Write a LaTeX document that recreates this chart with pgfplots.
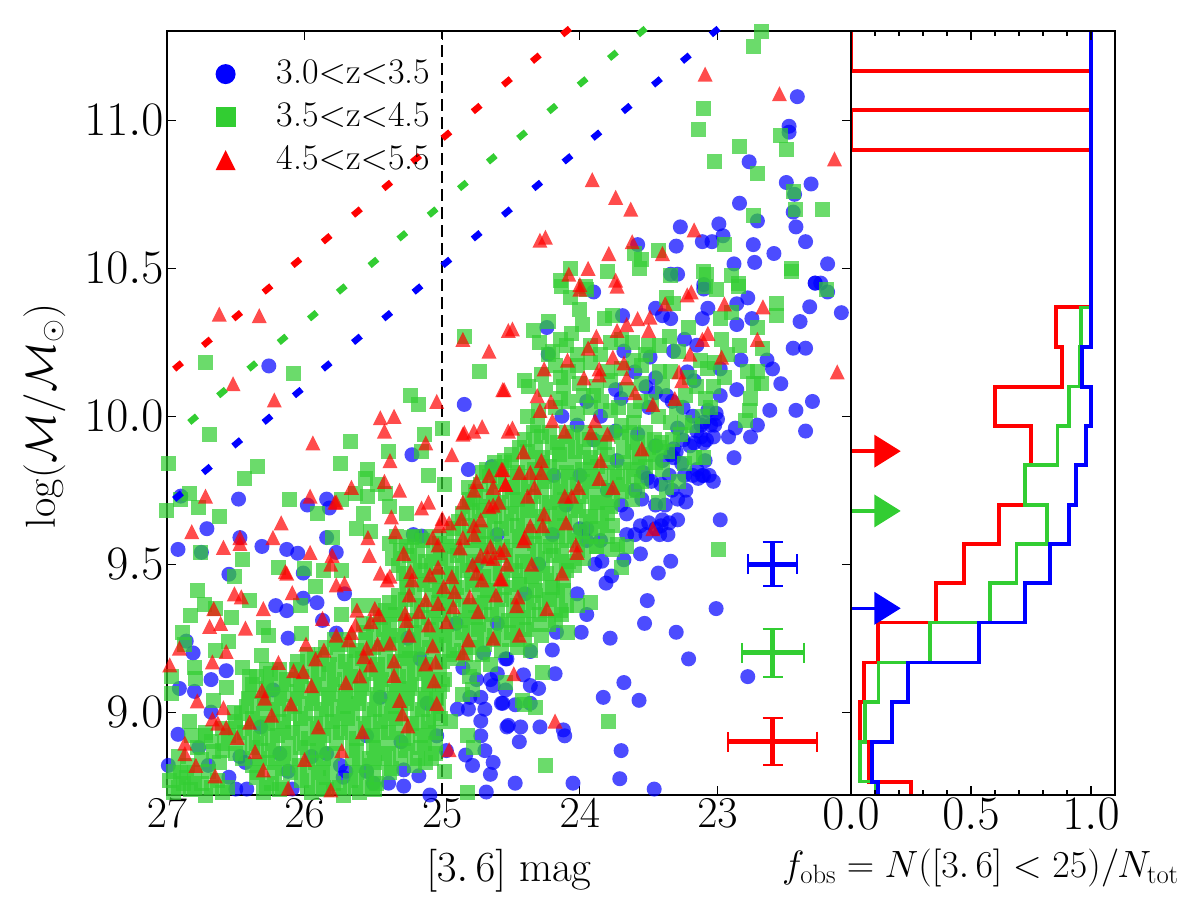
\documentclass[border=0pt]{standalone}
\usepackage{fix-cm}
\usepackage{pgfplots}
\pgfplotsset{compat=1.18}
\pgfdeclareplotmark{dotf}{\pgfpathcircle{\pgfpointorigin}{\pgfplotmarksize}\pgfusepathqfill}
\pgfdeclareplotmark{sqf}{\pgfpathrectangle{\pgfqpoint{-\pgfplotmarksize}{-\pgfplotmarksize}}{\pgfqpoint{2\pgfplotmarksize}{2\pgfplotmarksize}}\pgfusepathqfill}
\pgfdeclareplotmark{trif}{\pgfpathmoveto{\pgfqpoint{0pt}{\pgfplotmarksize}}\pgfpathlineto{\pgfqpoint{\pgfplotmarksize}{-\pgfplotmarksize}}\pgfpathlineto{\pgfqpoint{-\pgfplotmarksize}{-\pgfplotmarksize}}\pgfpathclose\pgfusepathqfill}
\pgfdeclareplotmark{track}{\pgftransformrotate{40}\pgfpathrectangle{\pgfqpoint{-5pt}{-3.2pt}}{\pgfqpoint{10pt}{6.4pt}}\pgfusepathqfill}
\pgfdeclareplotmark{rarr}{\pgfpathmoveto{\pgfqpoint{0pt}{16.5pt}}\pgfpathlineto{\pgfqpoint{26.4pt}{0pt}}\pgfpathlineto{\pgfqpoint{0pt}{-16.5pt}}\pgfpathclose\pgfusepathqfill}
\definecolor{lg}{rgb}{0.196,0.804,0.196}
\newcommand{\tf}{\fontsize{44}{48}\selectfont}
\newcommand{\tfw}{\fontsize{48}{52}\selectfont}
\begin{document}
\begin{tikzpicture}
\path[use as bounding box] (0,0) rectangle (1200pt,906pt);
\begin{axis}[
  at={(167pt,111pt)}, anchor=south west,
  scale only axis, width=684pt, height=764pt,
  x dir=reverse, xmin=22.03, xmax=27, ymin=8.72, ymax=11.302,
  xtick={23,24,25,26,27}, ytick={9,9.5,10,10.5,11},
  axis on top, axis line style={line width=2pt},
  major tick length=9pt,
  tick style={black, line width=1.2pt},
  xticklabel style={font=\tf, yshift=-1pt},
  yticklabel style={font=\tfw, /pgf/number format/.cd, fixed, fixed zerofill, precision=1},
  xticklabel={\pgfmathprintnumber[int detect]{\tick}},
  xlabel={$[3.\,6]$ mag},
  xlabel style={font=\fontsize{43}{46}\selectfont, at={(axis description cs:0.5,-0.1126)}, anchor=base},
  ylabel={$\log(\mathcal{M}/\mathcal{M}_\odot)$},
  ylabel style={font=\fontsize{42}{46}\selectfont, at={(axis description cs:-0.164,0.496)}, anchor=base},
  legend cell align=left,
  legend style={at={(axis cs:26.67,11.206)}, anchor=north west, draw=none, fill=none,
    font=\fontsize{36}{38}\selectfont, row sep=18pt,
    nodes={inner sep=0pt, text height=22pt, text depth=3pt},
    /tikz/every odd column/.append style={column sep=41pt}},
]
\addlegendimage{only marks, mark=dotf, mark size=10pt, color=blue}
\addlegendentry{3.0$<$z$<$3.5}
\addlegendimage{only marks, mark=sqf, mark size=10pt, color=lg}
\addlegendentry{3.5$<$z$<$4.5}
\addlegendimage{only marks, mark=trif, mark size=10pt, color=red}
\addlegendentry{4.5$<$z$<$5.5}
% blue
\addplot[forget plot, only marks, color=blue, mark=dotf, mark size=7.5pt, mark options={fill opacity=.7}] coordinates {
(22.45,11.305)(22.42,11.08)(22.48,10.98)(22.48,10.96)(22.77,10.86)(22.50,10.79)(22.32,10.785)(22.44,10.75)(22.45,10.69)(22.43,10.64)(22.36,10.59)(22.84,10.72)(22.71,10.66)(22.99,10.65)(23.27,10.64)(22.96,10.61)(23.04,10.59)(23.11,10.59)(22.74,10.58)(23.30,10.575)(23.58,10.58)(22.59,10.55)(22.73,10.52)(22.88,10.515)(22.20,10.515)(23.29,10.48)(23.34,10.48)(22.29,10.45)(22.25,10.45)(23.10,10.445)
(23.90,10.42)(23.10,10.43)(22.29,10.45)(22.20,10.42)(22.33,10.37)(22.10,10.35)(22.40,10.32)(22.78,10.40)(22.86,10.38)(23.07,10.365)(23.45,10.365)(23.69,10.34)(23.40,10.34)(23.34,10.33)(23.11,10.33)(22.86,10.31)(22.75,10.33)(24.24,10.30)(24.23,10.21)(23.24,10.26)(23.15,10.24)(23.32,10.22)(22.45,10.23)(22.36,10.23)(23.68,10.22)(23.49,10.20)(22.83,10.19)(22.64,10.19)(22.60,10.16)(22.54,10.11)(22.86,10.09)(23.22,10.15)(23.45,10.13)(23.17,10.12)(23.45,10.08)(23.37,10.07)(23.74,10.09)(22.98,10.16)(22.98,10.07)(22.31,10.05)(22.43,10.02)(22.62,10.02)(22.36,9.95)(22.71,9.97)(22.87,9.96)(22.76,9.93)(22.92,9.93)(23.01,10.01)(23.07,10.02)(23.12,9.97)(23.03,9.93)(23.29,9.96)(23.10,9.91)(23.17,9.91)(23.32,9.86)(23.09,9.85)(22.88,9.86)(23.11,9.80)(23.03,9.78)(23.23,9.75)(23.23,9.71)(23.29,9.72)(23.41,9.77)(22.98,9.65)(23.29,9.65)(23.35,9.64)(23.66,9.67)(23.56,9.63)(23.41,9.63)(24.19,9.80)(24.0,9.80)(23.51,9.79)(23.73,9.85)(23.74,9.95)(23.50,10.03)(23.85,10.0)(24.13,10.0)(24.02,9.97)(23.58,9.94)(23.32,9.89)(23.54,9.81)(23.15,9.82)(23.24,9.80)(23.95,9.62)
(23.10,9.98)(23.05,9.97)(23.15,9.95)(23.08,9.92)(23.12,9.93)(23.02,9.97)(23.00,9.99)(23.20,9.90)(23.30,9.88)(23.26,9.84)(23.34,9.87)(23.10,9.80)(23.14,9.79)(23.06,9.80)(23.18,9.80)(23.4,9.65)(23.45,9.62)(23.5,9.64)(23.42,9.60)(23.52,9.60)(23.36,9.60)(23.6,9.6)(23.66,9.60)(24.0,9.62)(23.95,9.58)(23.85,9.58)
(23.55,9.72)(23.45,9.70)(23.60,9.75)(23.38,9.70)(23.48,9.78)(23.35,9.80)(23.33,9.75)(23.40,9.85)(23.45,9.90)(23.25,9.92)(23.18,10.0)(23.25,10.03)(23.33,10.05)(23.52,10.10)(23.60,10.15)(23.70,10.06)(23.95,10.05)(23.90,9.92)
(23.56,9.535)(23.34,9.51)(23.43,9.47)(23.51,9.377)(23.01,9.35)(23.53,9.30)(23.30,9.27)(23.78,9.25)(23.99,9.27)(24.20,9.21)(24.36,9.205)(23.21,9.18)(24.18,9.13)(24.41,9.126)(22.78,9.12)(23.68,9.10)(24.36,9.09)(24.30,9.08)(23.83,9.05)(23.57,9.04)(24.36,9.03)(24.47,9.025)(24.56,9.03)(24.52,8.955)(24.43,8.95)(24.29,8.95)(24.12,8.94)(24.11,8.92)(24.44,8.90)(23.70,8.87)(23.71,8.775)(24.47,8.76)(24.05,8.76)(23.46,8.74)(23.81,9.436)(23.89,9.50)(23.84,9.51)(23.68,9.515)(23.77,9.46)(23.95,9.33)(24.02,9.40)(24.17,9.27)(24.54,9.18)(24.54,9.075)
(26.26,10.17)(24.84,10.04)(25.22,9.87)(24.81,9.82)(24.64,9.83)(26.48,9.72)(26.71,9.62)(26.47,9.59)(25.98,9.70)(25.84,9.72)(25.82,9.69)(25.84,9.59)(25.21,9.60)(25.15,9.595)(26.90,9.73)
(26.92,9.55)(26.75,9.54)(26.31,9.56)(26.13,9.55)(26.05,9.537)(25.77,9.54)(26.55,9.466)(26.21,9.36)(26.13,9.343)(25.91,9.37)(26.01,9.47)(25.71,9.40)(26.01,9.385)(26.86,9.24)(26.81,9.20)(26.12,9.25)(26.57,9.14)(26.68,9.11)(26.91,9.08)(26.80,9.07)(26.23,9.075)(26.68,9.0)(26.92,8.925)(26.77,8.88)(26.47,8.85)(26.43,8.83)(26.55,8.78)(26.70,8.82)(26.99,8.82)(25.87,9.31)(25.77,9.267)(26.50,8.74)(26.42,8.74)(24.53,8.95)(24.72,8.97)(24.81,9.01)(24.89,9.01)(24.69,9.01)(24.57,9.03)(24.63,9.09)(24.72,8.92)(24.69,8.87)(24.63,8.83)(24.78,8.82)(24.65,8.79)(24.83,8.855)(25.17,8.785)(25.28,8.805)(25.28,8.75)(25.39,8.76)(25.09,8.72)(24.68,8.73)(24.97,8.87)(25.04,8.92)(24.65,9.11)(24.75,9.11)(24.72,9.05)(24.80,9.05)(24.6,9.13)(24.53,9.18)
(25.84,8.86)(25.74,8.82)(25.55,8.92)(25.11,9.03)(25.16,9.18)(26.18,8.86)(26.09,8.74)(25.55,8.80)(25.70,8.80)(25.72,8.78)(26.12,8.80)(25.50,8.76)(25.30,8.90)(25.95,8.85)(26.32,8.95)(25.45,9.05)(25.25,9.25)(24.90,9.30)(24.70,9.20)(24.85,9.15)(24.60,9.30)(24.40,9.40)(24.30,9.50)(24.20,9.60)(24.10,9.70)(23.80,9.75)(23.70,9.70)(24.60,9.60)(24.75,9.50)
};
% green
\addplot[forget plot, only marks, color=lg, mark=sqf, mark size=7.5pt, mark options={fill opacity=.72}] coordinates {
(22.74,11.25)(22.68,11.30)(23.10,11.04)(23.14,10.97)(22.84,10.91)(22.54,10.95)(22.50,10.90)(23.02,10.86)(22.71,10.82)(22.45,10.76)(22.43,10.70)(22.24,10.70)(22.74,10.68)(22.95,10.58)(23.43,10.56)(23.60,10.55)(23.55,10.53)(23.57,10.50)(24.07,10.50)(24.14,10.46)(23.80,10.49)(23.10,10.49)(23.08,10.48)(22.90,10.475)(22.46,10.50)(22.46,10.49)(23.34,10.475)(22.85,10.45)(23.96,10.44)
(24.13,10.44)(24.07,10.40)(23.95,10.43)(23.37,10.40)(23.32,10.38)(23.09,10.44)(23.01,10.43)(22.85,10.44)(22.21,10.43)(22.57,10.38)(22.57,10.34)(24.0,10.36)(23.98,10.31)(24.23,10.32)(24.34,10.29)(24.29,10.25)(24.14,10.26)(24.06,10.28)(23.82,10.33)(23.76,10.34)(23.70,10.26)(23.21,10.30)(22.97,10.26)(22.98,10.33)(22.90,10.35)(22.71,10.30)(22.67,10.23)(22.84,10.24)(23.28,10.22)(23.42,10.24)(23.52,10.21)(23.61,10.19)(23.85,10.21)(24.02,10.21)(24.23,10.21)(23.12,10.19)(22.93,10.21)(23.07,10.16)(22.78,10.15)(22.71,10.15)(22.74,10.11)(22.68,10.11)(22.76,10.06)(22.77,10.02)(22.80,9.985)(23.34,10.15)(24.14,10.13)(24.02,10.17)(24.40,10.12)(24.37,10.10)(24.14,10.06)(23.97,10.07)(23.90,10.07)(23.78,10.02)(23.60,10.02)(24.38,10.0)(24.02,10.01)(23.23,10.07)(23.09,10.06)(23.03,10.10)(23.11,10.0)(23.24,9.98)(23.43,10.0)(23.61,9.98)(23.70,9.97)(24.31,9.97)(23.41,9.91)(23.27,9.94)(23.24,9.84)(23.10,9.86)(23.37,9.76)(23.43,9.71)(23.58,9.75)
(24.30,10.02)(24.18,10.03)(24.08,10.05)(23.92,10.03)(23.84,10.05)(23.72,10.03)(23.56,10.05)(23.48,10.05)(24.25,10.09)(24.12,10.10)(24.00,10.11)(23.88,10.10)(23.78,10.12)(23.66,10.09)(23.55,10.11)(23.40,10.10)(24.28,10.14)(24.18,10.17)(24.08,10.15)(23.92,10.18)(23.80,10.15)(23.70,10.16)(23.55,10.17)(23.42,10.15)(24.20,10.22)(24.10,10.24)(23.92,10.24)(23.78,10.25)(23.62,10.25)(23.50,10.24)(23.35,10.27)(23.20,10.13)(23.02,10.18)(22.95,10.13)(23.15,10.10)(23.05,10.03)(23.18,9.97)(23.34,9.98)(23.30,10.03)(23.33,9.92)(23.17,9.86)(23.28,9.78)
(26.95,8.80)(26.85,8.82)(26.75,8.84)(26.88,8.76)(26.70,8.80)(26.62,8.83)(26.78,8.88)(26.68,8.90)(26.92,8.85)
(22.99,9.55)(23.70,9.49)(23.92,9.37)(24.12,9.41)(24.27,9.135)(24.42,9.04)(24.32,9.015)(23.79,8.97)(24.25,8.82)(24.09,9.27)(24.02,9.36)(24.13,9.33)(24.54,9.10)(24.40,9.025)(23.73,9.565)(23.87,9.56)
(26.72,10.18)(26.08,10.145)(26.69,9.94)(25.67,9.915)(25.23,10.07)(25.17,10.04)(24.73,10.15)(24.84,10.27)(25.13,9.94)(25.0,9.96)(25.39,9.88)(25.15,9.88)(26.99,9.84)(26.34,9.83)(26.44,9.79)(25.74,9.84)(25.54,9.82)(25.10,9.80)(24.98,9.77)(26.84,9.74)(26.90,9.72)(26.77,9.69)(26.62,9.66)(26.11,9.72)(27.0,9.68)(25.91,9.67)(25.56,9.79)(25.47,9.77)(25.54,9.73)(25.73,9.72)(25.63,9.74)(25.41,9.74)(25.38,9.695)(25.57,9.67)(25.26,9.67)(25.62,9.62)(25.52,9.61)(25.80,9.59)(25.22,9.59)(24.55,9.85)(24.71,9.81)(24.81,9.76)(24.78,9.71)
(26.76,9.54)(26.45,9.515)(26.19,9.49)(26.51,9.46)(26.78,9.41)(26.73,9.365)(26.0,9.486)(25.86,9.48)(25.73,9.48)(25.92,9.425)(26.40,9.377)(26.03,9.36)(26.65,9.35)(26.83,9.325)(26.53,9.32)(26.30,9.287)(26.26,9.26)(26.89,9.27)(26.55,9.24)(26.87,9.23)(26.65,9.21)(26.31,9.19)(26.02,9.265)(26.80,9.15)(26.79,9.115)(26.97,9.12)(26.97,9.064)(26.45,9.15)(26.40,9.12)(26.57,9.085)(26.66,9.04)(26.84,8.97)(26.51,9.0)(26.66,8.867)(26.72,8.92)(25.61,9.36)(25.50,9.36)(25.73,9.33)(25.57,9.30)
(24.82,8.73)(24.98,8.80)(24.82,8.92)(24.77,8.88)(24.94,8.97)(24.78,9.075)
(24.40,9.92)(24.28,9.93)(24.16,9.91)(24.05,9.93)(23.93,9.92)(23.82,9.91)(23.70,9.93)(23.58,9.91)(23.46,9.92)
(24.50,9.87)(24.38,9.88)(24.27,9.86)(24.15,9.87)(24.03,9.88)(23.92,9.86)(23.80,9.87)(23.68,9.88)(23.57,9.86)(23.47,9.87)(23.36,9.88)
(24.68,9.82)(24.57,9.83)(24.45,9.81)(24.33,9.82)(24.22,9.83)(24.10,9.81)(23.98,9.82)(23.87,9.83)(23.75,9.81)(23.63,9.82)(23.52,9.83)(23.40,9.82)
(24.72,9.77)(24.60,9.78)(24.49,9.76)(24.37,9.77)(24.26,9.78)(24.14,9.76)(24.02,9.77)(23.91,9.78)(23.79,9.76)(23.68,9.77)(23.55,9.78)
(24.80,9.72)(24.68,9.73)(24.57,9.71)(24.45,9.72)(24.34,9.73)(24.22,9.71)(24.11,9.72)(23.99,9.73)(23.87,9.71)(23.76,9.72)(23.62,9.72)
(24.85,9.67)(24.73,9.68)(24.62,9.66)(24.50,9.67)(24.38,9.68)(24.27,9.66)(24.15,9.67)(24.03,9.68)(23.92,9.66)(23.80,9.67)
(24.92,9.62)(24.80,9.63)(24.69,9.61)(24.57,9.62)(24.45,9.63)(24.34,9.61)(24.22,9.62)(24.11,9.63)(23.99,9.61)(23.87,9.62)(23.76,9.63)
(25.38,9.57)(25.26,9.56)(25.14,9.58)(25.02,9.57)(24.91,9.56)(24.79,9.58)(24.68,9.57)(24.56,9.56)(24.44,9.58)(24.33,9.57)(24.21,9.56)(24.10,9.58)(23.98,9.57)(23.88,9.56)(23.76,9.55)(23.66,9.56)
(25.36,9.52)(25.24,9.53)(25.12,9.51)(25.01,9.52)(24.89,9.53)(24.77,9.51)(24.66,9.52)(24.54,9.53)(24.42,9.51)(24.31,9.52)(24.19,9.53)(24.08,9.51)(23.97,9.52)
(25.28,9.47)(25.16,9.48)(25.05,9.46)(24.93,9.47)(24.82,9.48)(24.70,9.46)(24.58,9.47)(24.47,9.48)(24.35,9.46)(24.24,9.47)(24.10,9.48)
(25.25,9.42)(25.13,9.43)(25.02,9.41)(24.90,9.42)(24.78,9.43)(24.67,9.41)(24.55,9.42)(24.44,9.43)(24.32,9.41)(24.20,9.42)
(25.38,9.37)(25.27,9.38)(25.15,9.36)(25.03,9.37)(24.92,9.38)(24.80,9.36)(24.69,9.37)(24.57,9.38)(24.45,9.36)(24.34,9.37)(24.22,9.38)(24.10,9.36)
(25.45,9.32)(25.34,9.33)(25.22,9.31)(25.10,9.32)(24.99,9.33)(24.87,9.31)(24.76,9.32)(24.64,9.33)(24.52,9.31)(24.41,9.32)(24.29,9.33)(24.18,9.31)
(25.55,9.27)(25.43,9.28)(25.32,9.26)(25.20,9.27)(25.08,9.28)(24.97,9.26)(24.85,9.27)(24.74,9.28)(24.62,9.26)(24.50,9.27)(24.39,9.28)(24.28,9.26)
(25.85,9.22)(25.74,9.23)(25.62,9.21)(25.50,9.22)(25.39,9.23)(25.27,9.21)(25.15,9.22)(25.04,9.23)(24.92,9.21)(24.80,9.22)(24.69,9.23)(24.57,9.21)(24.45,9.22)(24.36,9.21)
(26.05,9.17)(25.93,9.18)(25.82,9.16)(25.70,9.17)(25.58,9.18)(25.47,9.16)(25.35,9.17)(25.24,9.18)(25.12,9.16)(25.00,9.17)(24.89,9.18)(24.77,9.15)(24.65,9.16)
(26.35,9.12)(26.25,9.13)(26.13,9.11)(26.02,9.12)(25.90,9.13)(25.78,9.11)(25.67,9.12)(25.55,9.13)(25.44,9.11)(25.32,9.12)(25.20,9.13)(25.09,9.11)(24.98,9.11)(24.80,9.12)
(26.40,9.07)(26.28,9.08)(26.17,9.06)(26.05,9.07)(25.93,9.08)(25.82,9.06)(25.70,9.07)(25.59,9.08)(25.47,9.06)(25.35,9.07)(25.24,9.08)(25.12,9.06)(25.02,9.07)(24.85,9.06)
(26.42,9.02)(26.30,9.03)(26.19,9.01)(26.07,9.02)(25.95,9.03)(25.84,9.01)(25.72,9.02)(25.61,9.03)(25.49,9.01)(25.37,9.02)(25.26,9.03)(25.14,9.01)(25.03,9.02)
(26.50,8.97)(26.38,8.98)(26.27,8.96)(26.15,8.97)(26.03,8.98)(25.92,8.96)(25.80,8.97)(25.69,8.98)(25.57,8.96)(25.45,8.97)(25.34,8.98)(25.22,8.96)(25.10,8.97)(25.01,8.98)
(26.82,8.92)(26.72,8.93)(26.55,8.92)(26.44,8.93)(26.32,8.91)(26.20,8.92)(26.09,8.93)(25.97,8.91)(25.86,8.92)(25.74,8.93)(25.62,8.91)(25.51,8.92)(25.39,8.93)(25.28,8.91)(25.16,8.92)(25.05,8.93)
(26.60,8.87)(26.50,8.86)(26.38,8.88)(26.26,8.87)(26.15,8.86)(26.03,8.88)(25.91,8.87)(25.80,8.86)(25.62,8.87)(25.50,8.88)(25.39,8.86)(25.27,8.87)(25.16,8.88)(25.05,8.86)
(26.38,8.82)(26.27,8.83)(26.16,8.81)(26.04,8.82)(25.92,8.83)(25.81,8.81)(25.60,8.82)(25.49,8.83)(25.37,8.81)(25.20,8.82)(25.12,8.83)
(26.98,8.77)(26.86,8.78)(26.75,8.76)(26.63,8.77)(26.35,8.78)(26.24,8.76)(26.02,8.77)(25.90,8.78)(25.79,8.76)(25.67,8.77)(25.55,8.78)(25.48,8.76)
(26.95,8.73)(26.83,8.74)(26.72,8.72)(26.60,8.73)(26.30,8.73)(26.18,8.74)(25.95,8.73)(25.84,8.74)(25.72,8.72)(25.60,8.73)(25.49,8.74)
(24.34,9.945)(24.22,9.945)(24.10,9.945)(23.98,9.945)(23.87,9.945)(23.76,9.945)(23.64,9.945)(23.52,9.945)
(24.44,9.895)(24.32,9.895)(24.20,9.895)(24.09,9.895)(23.97,9.895)(23.85,9.895)(23.62,9.895)(23.50,9.895)(23.42,9.895)
(24.62,9.845)(24.50,9.845)(24.38,9.845)(24.27,9.845)(24.15,9.845)(24.04,9.845)(23.92,9.845)(23.80,9.845)(23.68,9.845)(23.58,9.845)(23.45,9.845)
(24.66,9.795)(24.54,9.795)(24.43,9.795)(24.31,9.795)(24.20,9.795)(24.08,9.795)(23.96,9.795)(23.85,9.795)(23.73,9.795)(23.61,9.795)
(24.76,9.745)(24.63,9.745)(24.51,9.745)(24.40,9.745)(24.28,9.745)(24.16,9.745)(24.05,9.745)(23.93,9.745)(23.82,9.745)(23.70,9.745)
(24.82,9.695)(24.70,9.695)(24.59,9.695)(24.47,9.695)(24.36,9.695)(24.24,9.695)(24.13,9.695)(24.01,9.695)(23.89,9.695)(23.78,9.695)
(24.88,9.645)(24.76,9.645)(24.65,9.645)(24.53,9.645)(24.41,9.645)(24.30,9.645)(24.18,9.645)(24.07,9.645)(23.95,9.645)(23.84,9.645)
(25.33,9.595)(25.20,9.595)(25.08,9.595)(24.97,9.595)(24.85,9.595)(24.74,9.595)(24.62,9.595)(24.50,9.595)(24.39,9.595)(24.27,9.595)(24.16,9.595)(24.04,9.595)(23.92,9.595)(23.80,9.595)
(25.30,9.545)(25.18,9.545)(25.06,9.545)(24.95,9.545)(24.83,9.545)(24.72,9.545)(24.60,9.545)(24.48,9.545)(24.37,9.545)(24.25,9.545)(24.13,9.545)(24.02,9.545)
(25.32,9.495)(25.20,9.495)(25.08,9.495)(24.97,9.495)(24.85,9.495)(24.73,9.495)(24.62,9.495)(24.50,9.495)(24.38,9.495)(24.27,9.495)(24.15,9.495)(24.04,9.495)
(25.26,9.445)(25.14,9.445)(25.02,9.445)(24.91,9.445)(24.79,9.445)(24.67,9.445)(24.56,9.445)(24.44,9.445)(24.33,9.445)(24.21,9.445)(24.12,9.445)
(25.32,9.395)(25.20,9.395)(25.08,9.395)(24.97,9.395)(24.85,9.395)(24.73,9.395)(24.62,9.395)(24.50,9.395)(24.39,9.395)(24.27,9.395)(24.16,9.395)
(25.41,9.345)(25.30,9.345)(25.18,9.345)(25.06,9.345)(24.95,9.345)(24.83,9.345)(24.72,9.345)(24.60,9.345)(24.48,9.345)(24.37,9.345)(24.25,9.345)(24.14,9.345)
(25.50,9.295)(25.38,9.295)(25.27,9.295)(25.15,9.295)(25.03,9.295)(24.92,9.295)(24.80,9.295)(24.69,9.295)(24.57,9.295)(24.45,9.295)(24.34,9.295)(24.23,9.295)
(25.78,9.245)(25.68,9.245)(25.56,9.245)(25.44,9.245)(25.33,9.245)(25.21,9.245)(25.09,9.245)(24.98,9.245)(24.86,9.245)(24.75,9.245)(24.63,9.245)(24.51,9.245)(24.40,9.245)
(25.98,9.195)(25.88,9.195)(25.76,9.195)(25.64,9.195)(25.53,9.195)(25.41,9.195)(25.29,9.195)(25.18,9.195)(25.06,9.195)(24.95,9.195)(24.83,9.195)(24.71,9.195)
(26.28,9.145)(26.18,9.145)(26.06,9.145)(25.95,9.145)(25.83,9.145)(25.71,9.145)(25.60,9.145)(25.48,9.145)(25.37,9.145)(25.25,9.145)(25.13,9.145)(25.02,9.145)
(26.38,9.095)(26.26,9.095)(26.15,9.095)(26.03,9.095)(25.91,9.095)(25.80,9.095)(25.68,9.095)(25.57,9.095)(25.45,9.095)(25.33,9.095)(25.22,9.095)(25.10,9.095)(25.00,9.095)
(26.41,9.045)(26.29,9.045)(26.18,9.045)(26.06,9.045)(25.94,9.045)(25.83,9.045)(25.71,9.045)(25.60,9.045)(25.48,9.045)(25.36,9.045)(25.25,9.045)(25.13,9.045)(25.04,9.045)
(26.46,8.995)(26.34,8.995)(26.23,8.995)(26.11,8.995)(25.99,8.995)(25.88,8.995)(25.76,8.995)(25.65,8.995)(25.53,8.995)(25.41,8.995)(25.30,8.995)(25.18,8.995)(25.06,8.995)
(26.60,8.945)(26.50,8.945)(26.38,8.945)(26.26,8.945)(26.15,8.945)(26.03,8.945)(25.91,8.945)(25.80,8.945)(25.68,8.945)(25.56,8.945)(25.45,8.945)(25.33,8.945)(25.21,8.945)(25.10,8.945)
(26.58,8.895)(26.47,8.895)(26.35,8.895)(26.23,8.895)(26.12,8.895)(26.00,8.895)(25.89,8.895)(25.77,8.895)(25.65,8.895)(25.48,8.895)(25.37,8.895)(25.25,8.895)(25.13,8.895)(25.05,8.895)
(26.45,8.845)(26.33,8.845)(26.21,8.845)(26.10,8.845)(25.98,8.845)(25.86,8.845)(25.65,8.845)(25.53,8.845)(25.42,8.845)(25.30,8.845)(25.18,8.845)(25.08,8.845)
(26.90,8.795)(26.80,8.795)(26.34,8.795)(26.22,8.795)(26.10,8.795)(25.98,8.795)(25.87,8.795)(25.62,8.795)(25.50,8.795)(25.38,8.795)
(26.92,8.745)(26.80,8.745)(26.68,8.745)(26.56,8.745)(26.28,8.745)(26.16,8.745)(25.98,8.745)(25.86,8.745)(25.75,8.745)(25.63,8.745)(25.51,8.745)
};
% red
\addplot[forget plot, only marks, color=red, mark=trif, mark size=7.5pt, mark options={fill opacity=.7}] coordinates {
(23.09,11.156)(22.55,11.09)(22.15,10.87)(23.91,10.80)(23.74,10.74)(23.63,10.70)(23.17,10.63)(24.29,10.595)(24.25,10.605)(23.62,10.59)(23.79,10.55)(23.40,10.55)(23.94,10.50)(24.08,10.48)(23.74,10.46)(24.0,10.445)
(24.0,10.43)(23.73,10.44)(24.49,10.295)(23.88,10.27)(23.94,10.23)(23.73,10.29)(23.66,10.31)(23.58,10.33)(23.49,10.335)(23.50,10.29)(23.38,10.38)(23.22,10.41)(23.19,10.42)(22.95,10.38)(22.67,10.37)(23.07,10.28)(23.11,10.26)(22.71,10.26)(23.20,10.21)(22.97,10.20)(22.13,10.15)(23.76,10.20)(23.68,10.18)(24.09,10.19)(24.26,10.16)(23.86,10.16)(23.86,10.14)(23.97,10.13)(23.66,10.13)(23.28,10.15)(23.26,10.12)(24.55,10.09)(24.31,10.07)(23.60,10.08)(24.21,10.05)(23.31,10.06)(23.47,10.04)(24.29,10.02)(24.20,9.985)(24.49,9.96)(24.11,9.95)(23.89,9.985)(23.92,9.945)(23.80,9.94)(23.55,9.89)(24.41,9.88)(24.28,9.85)(23.85,9.85)(23.86,9.79)(24.56,9.82)(24.44,9.81)(24.36,9.81)(24.28,9.81)(23.76,9.76)(24.01,9.76)(24.33,9.76)(24.54,9.77)(24.11,9.73)(24.06,9.73)(24.38,9.73)(24.26,9.67)(24.10,9.64)(24.27,9.63)(24.36,9.63)(24.40,9.59)(23.47,9.62)
(24.48,9.13)(24.18,8.97)(24.45,9.39)(24.35,9.50)(24.13,9.47)(24.24,9.35)(24.46,9.36)(24.44,9.26)(24.02,9.54)(24.03,9.565)(24.55,9.55)(24.41,9.58)(24.53,9.50)(24.57,9.45)
(26.62,10.345)(26.33,10.34)(26.52,10.11)(26.22,10.055)(26.72,9.73)(26.82,9.61)(26.17,9.64)(26.23,9.59)(26.47,9.59)(25.94,9.91)(25.96,9.73)(25.78,9.71)(25.77,9.71)(25.66,9.76)(25.42,9.78)(25.31,9.75)(25.38,9.85)(25.12,9.91)(24.93,9.87)(24.85,10.26)(24.66,10.22)(24.56,10.09)(25.04,10.05)(25.35,10.0)(25.45,9.995)(25.42,9.95)(24.85,9.94)(24.84,9.945)(24.77,9.95)(24.71,9.965)(24.52,9.95)(24.52,10.29)(24.57,9.82)(24.66,9.80)(24.75,9.78)(24.77,9.75)(24.63,9.76)(24.54,9.77)(24.85,9.71)(24.63,9.70)(24.66,9.695)(24.59,9.71)(25.10,9.71)(25.15,9.69)(25.37,9.66)(25.34,9.61)(25.54,9.59)(25.0,9.655)(25.02,9.63)(24.95,9.64)(24.86,9.655)(24.72,9.65)(24.77,9.63)(24.85,9.59)(24.77,9.60)(25.07,9.59)
(26.59,9.557)(26.47,9.57)(25.96,9.54)(25.80,9.53)(25.81,9.50)(25.53,9.53)(26.14,9.475)(26.13,9.47)(25.45,9.47)(25.40,9.447)(25.38,9.46)(25.23,9.475)(25.22,9.447)(25.28,9.537)(25.09,9.464)(25.03,9.49)(25.03,9.565)(26.09,9.404)(25.77,9.43)(25.71,9.435)(26.51,9.40)(26.46,9.39)(25.24,9.396)(24.99,9.424)(24.93,9.458)(24.91,9.407)(24.80,9.39)(24.78,9.498)(24.75,9.47)(24.71,9.447)(24.58,9.45)(24.61,9.396)(25.12,9.38)(24.92,9.357)(24.74,9.34)(25.03,9.368)(25.17,9.34)(25.27,9.334)(25.62,9.345)(25.49,9.35)(25.46,9.33)(25.52,9.306)(25.26,9.31)(25.10,9.295)(24.97,9.306)(26.66,9.35)(26.30,9.35)(26.61,9.30)(26.69,9.29)(26.43,9.284)(25.87,9.317)(25.63,9.295)(25.66,9.27)(25.77,9.26)(25.68,9.244)(25.24,9.26)(25.99,9.23)(25.86,9.21)(25.38,9.233)(25.47,9.23)(25.55,9.216)(25.07,9.224)(24.81,9.244)(24.85,9.20)(24.63,9.25)(26.91,9.216)(26.57,9.205)(26.67,9.17)(26.19,9.168)(26.98,9.16)(25.92,9.18)(25.57,9.188)(25.52,9.16)(25.35,9.173)(25.12,9.163)(25.05,9.169)(26.08,9.14)(26.01,9.137)(25.60,9.123)(25.35,9.124)(25.70,9.10)(25.06,9.106)(25.95,9.09)(26.31,9.073)(26.29,9.047)(26.78,9.038)(26.10,9.028)(25.31,9.04)(25.04,9.03)(26.59,9.015)(26.24,8.99)(25.29,8.994)(26.67,8.977)(26.63,8.963)(26.57,8.948)(26.40,8.966)(25.90,8.95)(25.25,8.954)(26.49,8.915)(25.58,8.934)(26.87,8.895)(26.87,8.86)(26.36,8.867)(25.73,8.87)(24.95,8.873)(26.0,8.84)(26.79,8.82)(26.30,8.805)(26.65,8.785)(26.12,8.743)(25.81,8.737)
(24.65,9.56)(24.87,9.555)(24.58,9.54)(24.72,9.53)(24.67,9.525)(24.63,9.52)
};
% magnitude limit tracks
\addplot[forget plot, only marks, color=red, mark=track] coordinates {(26.92,10.17)(26.71,10.25)(26.49,10.34)(26.27,10.43)(26.06,10.52)(25.84,10.60)(25.62,10.69)(25.40,10.78)(25.19,10.87)(24.97,10.95)(24.75,11.04)(24.53,11.13)(24.32,11.21)(24.10,11.30)};
\addplot[forget plot, only marks, color=lg, mark=track] coordinates {(26.81,9.99)(26.60,10.08)(26.38,10.17)(26.16,10.26)(25.94,10.34)(25.73,10.43)(25.50,10.52)(25.29,10.61)(25.07,10.69)(24.85,10.78)(24.64,10.87)(24.42,10.95)(24.20,11.04)(23.98,11.13)(23.76,11.22)(23.55,11.30)};
\addplot[forget plot, only marks, color=blue, mark=track] coordinates {(26.92,9.73)(26.71,9.82)(26.49,9.91)(26.27,9.99)(26.05,10.08)(25.84,10.17)(25.62,10.26)(25.40,10.34)(25.18,10.43)(24.97,10.52)(24.75,10.61)(24.53,10.69)(24.31,10.78)(24.09,10.87)(23.88,10.95)(23.66,11.04)(23.44,11.13)(23.23,11.21)(23.02,11.30)};
% limit
\addplot[forget plot, black, line width=2pt, dash pattern=on 12pt off 6pt] coordinates {(25,8.72)(25,11.302)};
% error crosses
\addplot[forget plot, draw=none, mark=none, error bars/.cd, x dir=both, x explicit, y dir=both, y explicit, error bar style={line width=5pt, color=blue}, error mark options={rotate=90, line width=2pt, mark size=10pt, color=blue}] coordinates {(22.60,9.50) +- (0.18,0.075)};
\addplot[forget plot, draw=none, mark=none, error bars/.cd, x dir=both, x explicit, y dir=both, y explicit, error bar style={line width=5pt, color=lg}, error mark options={rotate=90, line width=2pt, mark size=10pt, color=lg}] coordinates {(22.60,9.20) +- (0.225,0.082)};
\addplot[forget plot, draw=none, mark=none, error bars/.cd, x dir=both, x explicit, y dir=both, y explicit, error bar style={line width=5pt, color=red}, error mark options={rotate=90, line width=2pt, mark size=10pt, color=red}] coordinates {(22.60,8.90) +- (0.325,0.08)};
\end{axis}
\begin{axis}[
  at={(851pt,111pt)}, anchor=south west,
  scale only axis, width=264pt, height=764pt,
  xmin=0, xmax=1.1, ymin=8.72, ymax=11.302,
  xtick={0,0.5,1}, minor xtick={0.1,0.2,0.3,0.4,0.6,0.7,0.8,0.9}, ytick=\empty,
  axis on top, axis line style={line width=2pt},
  major tick length=9pt, minor tick length=5pt,
  tick style={black, line width=1.2pt},
  tick label style={font=\tfw, /pgf/number format/.cd, fixed, fixed zerofill, precision=1},
  xlabel={$f_{\mathrm{obs}}=N([3.\,6]<25)/N_{\mathrm{tot}}$},
  xlabel style={font=\fontsize{38}{42}\selectfont, at={(axis description cs:0.49,-0.1086)}, anchor=base},
]
\addplot[red, line width=3.8pt, line join=miter] coordinates {(0,11.302)(0,11.167)(1,11.167)(1,11.035)(0,11.035)(0,10.90)(1,10.90)(1,10.368)(0.854,10.368)(0.854,10.235)(0.880,10.235)(0.880,10.10)(0.600,10.10)(0.600,9.968)(0.750,9.968)(0.750,9.835)(0.725,9.835)(0.725,9.70)(0.617,9.70)(0.617,9.568)(0.472,9.568)(0.472,9.436)(0.353,9.436)(0.353,9.303)(0.114,9.303)(0.114,9.168)(0.054,9.168)(0.054,9.034)(0.0375,9.034)(0.0375,8.90)(0.075,8.90)(0.075,8.765)(0.25,8.765)(0.25,8.72)};
\addplot[lg, line width=3.6pt, line join=miter] coordinates {(1,11.302)(1,10.368)(0.958,10.368)(0.958,10.235)(0.954,10.235)(0.954,10.10)(0.908,10.10)(0.908,9.968)(0.861,9.968)(0.861,9.835)(0.725,9.835)(0.725,9.70)(0.817,9.70)(0.817,9.568)(0.689,9.568)(0.689,9.436)(0.579,9.436)(0.579,9.303)(0.329,9.303)(0.329,9.168)(0.114,9.168)(0.114,9.034)(0.058,9.034)(0.058,8.90)(0.0375,8.90)(0.0375,8.765)(0.103,8.765)(0.103,8.72)};
\addplot[blue, line width=3.8pt, line join=miter] coordinates {(1,11.302)(1,10.235)(0.961,10.235)(0.961,10.10)(1,10.10)(1,9.968)(0.979,9.968)(0.979,9.835)(0.937,9.835)(0.937,9.70)(0.908,9.70)(0.908,9.568)(0.829,9.568)(0.829,9.436)(0.725,9.436)(0.725,9.303)(0.533,9.303)(0.533,9.168)(0.239,9.168)(0.239,9.034)(0.172,9.034)(0.172,8.90)(0.086,8.90)(0.086,8.765)(0.111,8.765)(0.111,8.72)};
\addplot[red, line width=3.5pt] coordinates {(0,9.882)(0.1,9.882)};
\addplot[lg, line width=3.5pt] coordinates {(0,9.68)(0.1,9.68)};
\addplot[blue, line width=3.5pt] coordinates {(0,9.351)(0.1,9.351)};
\addplot[only marks, color=red, mark=rarr] coordinates {(0.097,9.882)};
\addplot[only marks, color=lg, mark=rarr] coordinates {(0.097,9.68)};
\addplot[only marks, color=blue, mark=rarr] coordinates {(0.097,9.351)};
\end{axis}
\end{tikzpicture}
\end{document}
